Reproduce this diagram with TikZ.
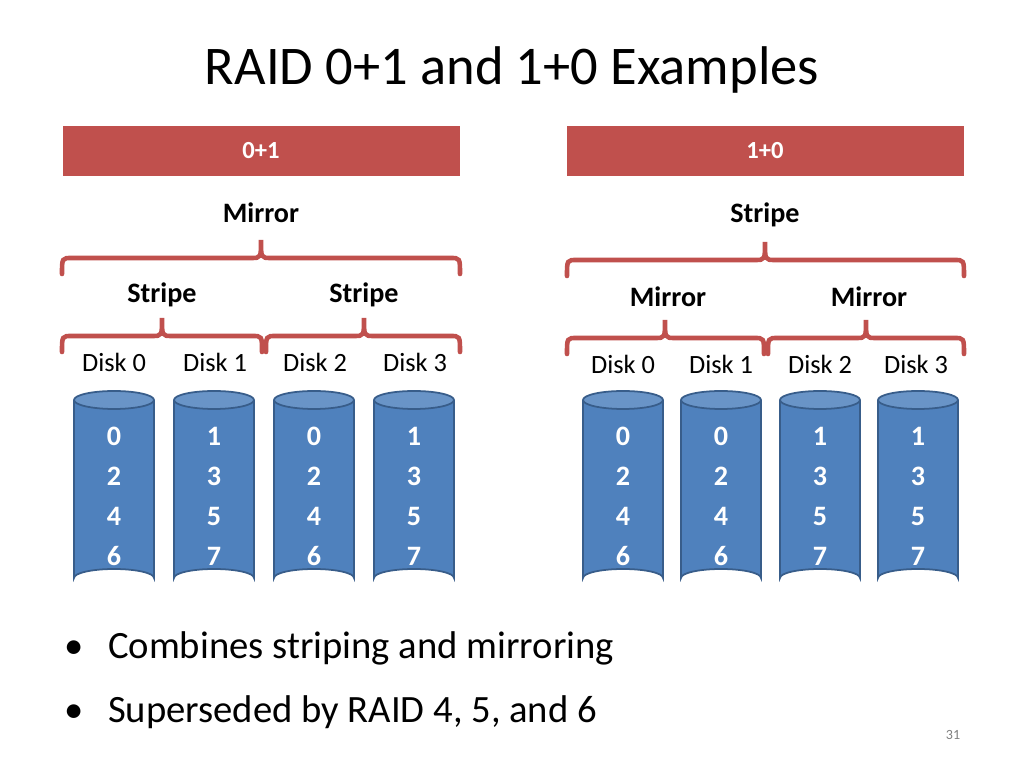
\documentclass[tikz,border=0pt]{standalone}
\usepackage{fontspec}
\setmainfont{Carlito}
\usepackage{xcolor}
\definecolor{barred}{HTML}{C0504D}
\definecolor{diskblue}{HTML}{4F81BD}
\definecolor{diskedge}{HTML}{385D8A}

% curly brace: left x, right x, tip x, middle y
\newcommand\redbrace[4]{%
  \draw [barred, line width=2.6pt, line cap=round]
    (#1,#4+16) .. controls (#1,#4) .. (#1+10,#4) -- (#3-10,#4)
    .. controls (#3,#4) .. (#3,#4-18)
    .. controls (#3,#4) .. (#3+10,#4) -- (#2-10,#4)
    .. controls (#2,#4) .. (#2,#4+16);}

% cylinder: centre x, name, numbers
\newcommand\disk[3]{%
  \fill [diskblue] (#1-40,400) -- (#1-40,578) arc (180:360:40 and 9) -- (#1+40,400) -- cycle;
  \draw [diskedge, line width=1pt] (#1-40,400) -- (#1-40,578) arc (180:360:40 and 9) -- (#1+40,400);
  \filldraw [fill=diskblue!85!white, draw=diskedge, line width=1pt] (#1,400) ellipse (40 and 9);
  \foreach \n [count=\i] in {#3} {
    \node [num] (#2n\i) at (#1,396+40*\i) {\n};
  }}

\begin{document}
\begin{tikzpicture}[x=0.2mm, y=-0.2mm,
    bar/.style={fill=barred, text=white, font=\fontsize{14}{16}\selectfont\bfseries,
      minimum width=397*0.2mm, minimum height=50*0.2mm, inner sep=0pt},
    lbl/.style={font=\fontsize{16}{18}\selectfont\bfseries},
    dsk/.style={font=\fontsize{15}{17}\selectfont},
    num/.style={text=white, font=\fontsize{16}{18}\selectfont\bfseries},
    bul/.style={font=\fontsize{22}{26}\selectfont, anchor=west}]

  \useasboundingbox (0,0) rectangle (1024,768);

  \node [font=\fontsize{31}{36}\selectfont] (title) at (512,70) {RAID 0+1 and 1+0 Examples};

  \node [bar] (barL) at (261,151) {0+1};
  \node [bar] (barR) at (765,151) {1+0};

  % 0+1
  \node [lbl] (mirL) at (261,213) {Mirror};
  \redbrace{62}{460}{261}{258}
  \node [lbl] (strA) at (162,295) {Stripe};
  \node [lbl] (strB) at (364,295) {Stripe};
  \redbrace{62}{262}{162}{336}
  \redbrace{266}{460}{364}{336}
  \foreach \x/\d in {114/0, 215/1, 315/2, 415/3}
    \node [dsk] (dL\d) at (\x,362) {Disk \d};
  \disk{114}{cL0}{0,2,4,6}
  \disk{214}{cL1}{1,3,5,7}
  \disk{314}{cL2}{0,2,4,6}
  \disk{414}{cL3}{1,3,5,7}

  % 1+0
  \node [lbl] (strR) at (765,215) {Stripe};
  \redbrace{567}{964}{765}{260}
  \node [lbl] (mirA) at (668,297) {Mirror};
  \node [lbl] (mirB) at (869,297) {Mirror};
  \redbrace{567}{764}{665}{338}
  \redbrace{768}{964}{866}{338}
  \foreach \x/\d in {623/0, 721/1, 820/2, 916/3}
    \node [dsk] (dR\d) at (\x,364) {Disk \d};
  \disk{623}{cR0}{0,2,4,6}
  \disk{721}{cR1}{0,2,4,6}
  \disk{820}{cR2}{1,3,5,7}
  \disk{918}{cR3}{1,3,5,7}

  \node [bul] (b1) at (58,648) {•\hspace{14pt}Combines striping and mirroring};
  \node [bul] (b2) at (58,712) {•\hspace{14pt}Superseded by RAID 4, 5, and 6};
  \node [text=gray, font=\fontsize{8}{10}\selectfont] (page) at (953,735) {31};
\end{tikzpicture}
\end{document}
